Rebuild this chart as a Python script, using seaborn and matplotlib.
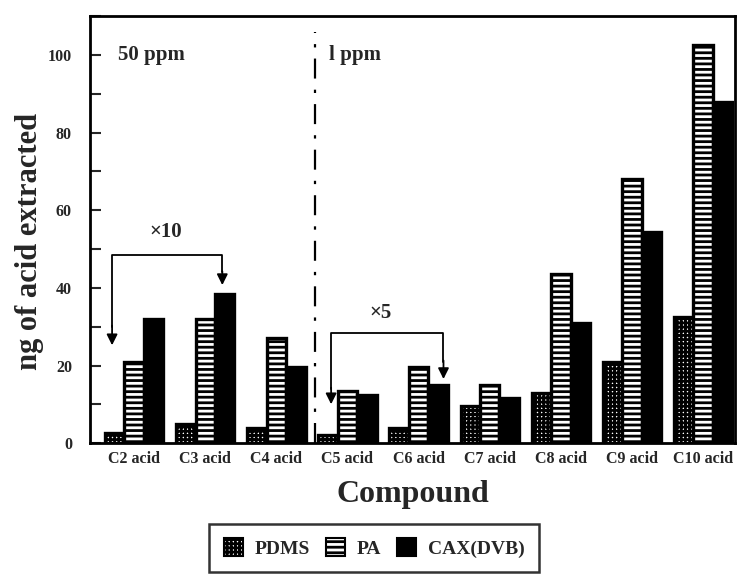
import matplotlib
matplotlib.use("Agg")
import matplotlib.pyplot as plt
import seaborn as sns
import pandas as pd
from matplotlib.patches import Patch
from matplotlib.ticker import MultipleLocator

compounds = ["C2 acid", "C3 acid", "C4 acid", "C5 acid", "C6 acid",
             "C7 acid", "C8 acid", "C9 acid", "C10 acid"]
fibers = ["PDMS", "PA", "CAX(DVB)"]
pdms = [2.5, 5, 4, 2, 4, 9.5, 13, 21, 32.5]
pa = [21, 32, 27, 13.5, 19.5, 15, 43.5, 68, 102.5]
cax = [32, 38.5, 19.5, 12.5, 15, 11.5, 31, 54.5, 88]
yticks = [0, 20, 40, 60, 80, 100]

rows = []
for name, vals in zip(fibers, [pdms, pa, cax]):
    for c, v in zip(compounds, vals):
        rows.append({"Compound": c, "Fiber": name, "value": v})
df = pd.DataFrame(rows)

sns.set_theme(style="white")
plt.rcParams['font.family'] = ['Liberation Serif', 'DejaVu Serif']
plt.rcParams['font.weight'] = 'bold'
plt.rcParams['hatch.linewidth'] = 2.0

fig = plt.figure(figsize=(7.41, 5.77), dpi=100)
ax = fig.add_axes([0.1215, 0.232, 0.8705, 0.740])

sns.barplot(data=df, x="Compound", y="value", hue="Fiber", order=compounds,
            hue_order=fibers, ax=ax, width=0.82, legend=False, errorbar=None,
            palette=["white", "white", "black"])

styles = [dict(fc="white", hatch="++++"), dict(fc="white", hatch="---"),
          dict(fc="black", hatch=None)]
for cont, st in zip(ax.containers, styles):
    for b in cont:
        b.set_facecolor(st["fc"])
        b.set_edgecolor("black")
        b.set_linewidth(2.4)
        if st["hatch"]:
            b.set_hatch(st["hatch"])

ax.set_xlim(-0.62, 8.45)
ax.set_ylim(0, 110)
ax.set_yticks(yticks)
ax.yaxis.set_minor_locator(MultipleLocator(10))
ax.tick_params(axis="y", which="both", direction="in", length=8, width=1.5,
               left=True, labelsize=11.5, pad=13)
ax.tick_params(axis="x", length=0, labelsize=11.5, pad=6)
for lab in ax.get_xticklabels() + ax.get_yticklabels():
    lab.set_fontweight("bold")
for s in ax.spines.values():
    s.set_linewidth(2)
    s.set_color("black")

ax.set_xlabel("Compound", fontsize=23, fontweight="bold", labelpad=9)
ax.set_ylabel("ng of acid extracted", fontsize=22, fontweight="bold")
ax.yaxis.set_label_coords(-0.072, 0.473)

# separator
ax.plot([2.55, 2.55], [0, 106], color="black", lw=1.6,
        ls=(0, (9, 5, 1.5, 5)))
ax.text(0.25, 100, "50 ppm", fontsize=15, fontweight="bold", ha="center", va="center")
ax.text(3.1, 100, "l ppm", fontsize=15, fontweight="bold", ha="center", va="center")

# x10 bracket
ax.plot([-0.31, -0.31, 1.24, 1.24], [30, 48.5, 48.5, 44], color="black", lw=1.3)
ax.annotate("", xy=(-0.31, 24.5), xytext=(-0.31, 31),
            arrowprops=dict(arrowstyle="-|>", color="black", lw=1.3, mutation_scale=16))
ax.annotate("", xy=(1.24, 40), xytext=(1.24, 45),
            arrowprops=dict(arrowstyle="-|>", color="black", lw=1.3, mutation_scale=16))
ax.text(0.44, 54.5, "×10", fontsize=15, fontweight="bold", ha="center", va="center")

# x5 bracket
ax.plot([2.77, 2.77, 4.35, 4.35], [14, 28.3, 28.3, 21], color="black", lw=1.3)
ax.annotate("", xy=(2.77, 9.3), xytext=(2.77, 15),
            arrowprops=dict(arrowstyle="-|>", color="black", lw=1.3, mutation_scale=16))
ax.annotate("", xy=(4.35, 15.8), xytext=(4.35, 22),
            arrowprops=dict(arrowstyle="-|>", color="black", lw=1.3, mutation_scale=16))
ax.text(3.46, 33.5, "×5", fontsize=15, fontweight="bold", ha="center", va="center")

handles = [Patch(facecolor="white", edgecolor="black", hatch="++++", lw=1.5),
           Patch(facecolor="white", edgecolor="black", hatch="---", lw=1.5),
           Patch(facecolor="black", edgecolor="black", lw=1.5)]
leg = fig.legend(handles, fibers, loc="center", bbox_to_anchor=(0.505, 0.05),
                 ncol=3, frameon=True, fancybox=False, handlelength=1.0,
                 handleheight=1.0, handletextpad=0.6, columnspacing=0.8,
                 borderpad=0.75, prop={"weight": "bold", "size": 14})
leg.get_frame().set_edgecolor("black")
leg.get_frame().set_linewidth(1.8)

fig.savefig("out.png", dpi=100)
